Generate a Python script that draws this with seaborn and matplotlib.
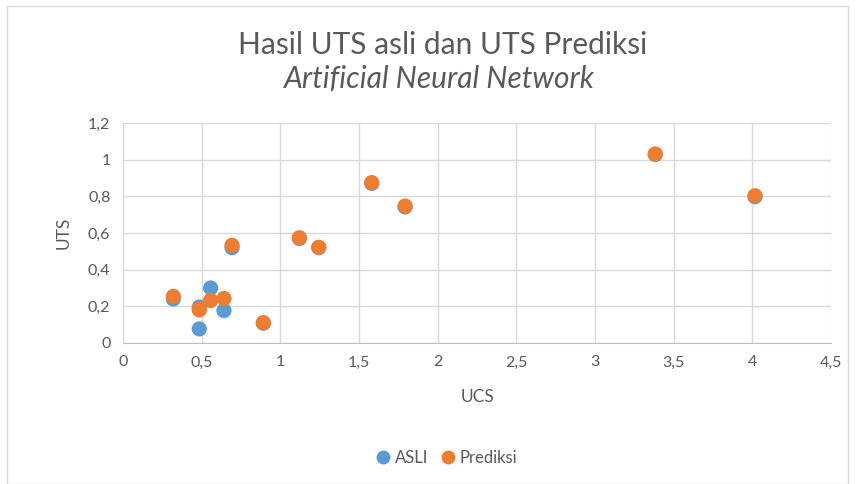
import numpy as np
import pandas as pd
import matplotlib
matplotlib.use("Agg")
import matplotlib.pyplot as plt
import seaborn as sns
from matplotlib.ticker import FuncFormatter, MultipleLocator
from matplotlib.patches import Rectangle
from matplotlib.lines import Line2D

# values
ucs = [0.32, 0.485, 0.485, 0.557, 0.642, 0.693, 0.892, 1.121, 1.244, 1.581, 1.793, 3.383, 4.017]
uts_asli = [0.240, 0.196, 0.077, 0.300, 0.177, 0.520, 0.108, 0.570, 0.520, 0.870, 0.742, 1.028, 0.798]
uts_prediksi = [0.254, 0.180, 0.185, 0.232, 0.243, 0.533, 0.111, 0.574, 0.522, 0.875, 0.747, 1.031, 0.803]
series_names = ["ASLI", "Prediksi"]
colors = ["#5B9BD5", "#ED7D31"]

df = pd.concat([
    pd.DataFrame({"UCS": ucs, "UTS": uts_asli, "Seri": series_names[0]}),
    pd.DataFrame({"UCS": ucs, "UTS": uts_prediksi, "Seri": series_names[1]}),
], ignore_index=True)

sns.set_style("white")
plt.rcParams["font.family"] = ["Lato", "DejaVu Sans"]

W, H = 857, 484
fig = plt.figure(figsize=(W / 100, H / 100), dpi=100)
ax = fig.add_axes([123 / W, 1 - 343 / H, (831 - 123) / W, (343 - 123) / H])

sns.scatterplot(data=df, x="UCS", y="UTS", hue="Seri", palette=colors,
                s=120, edgecolor="none", ax=ax, legend=False, zorder=3)

ax.set_xlim(0, 4.5)
ax.set_ylim(0, 1.2)
ax.xaxis.set_major_locator(MultipleLocator(0.5))
ax.yaxis.set_major_locator(MultipleLocator(0.2))
comma = FuncFormatter(lambda v, p: ("%g" % round(v, 2)).replace(".", ","))
ax.xaxis.set_major_formatter(comma)
ax.yaxis.set_major_formatter(comma)
ax.grid(True, color="#D9D9D9", linewidth=1)
ax.set_axisbelow(True)
for side in ["top", "right", "left"]:
    ax.spines[side].set_visible(False)
ax.spines["bottom"].set_color("#BFBFBF")
ax.tick_params(axis="both", length=0, labelsize=11.5, labelcolor="#595959", pad=9)
ax.set_xlabel("UCS", fontsize=12.5, color="#595959", labelpad=14)
ax.set_ylabel("UTS", fontsize=12.5, color="#595959", labelpad=12)

fig.text(443 / W, 1 - 45 / H, "Hasil UTS asli dan UTS Prediksi", ha="center", va="center",
         fontsize=21.5, color="#595959")
fig.text(439 / W, 1 - 79 / H, "Artificial Neural Network", ha="center", va="center",
         fontsize=21.5, color="#595959", style="italic")

handles = [Line2D([], [], marker="o", linestyle="", markersize=9, color=c) for c in colors]
fig.legend(handles, series_names, loc="center", bbox_to_anchor=(447 / W, 1 - 458 / H),
           ncol=2, frameon=False, fontsize=12, handlelength=0.8, handletextpad=0.3,
           columnspacing=0.8, labelcolor="#595959")

fig.patches.append(Rectangle((7 / W, 0), (848 - 7) / W, 1 - 6 / H, transform=fig.transFigure,
                             fill=False, edgecolor="#D9D9D9", linewidth=1))

fig.savefig("out.png", dpi=100)
